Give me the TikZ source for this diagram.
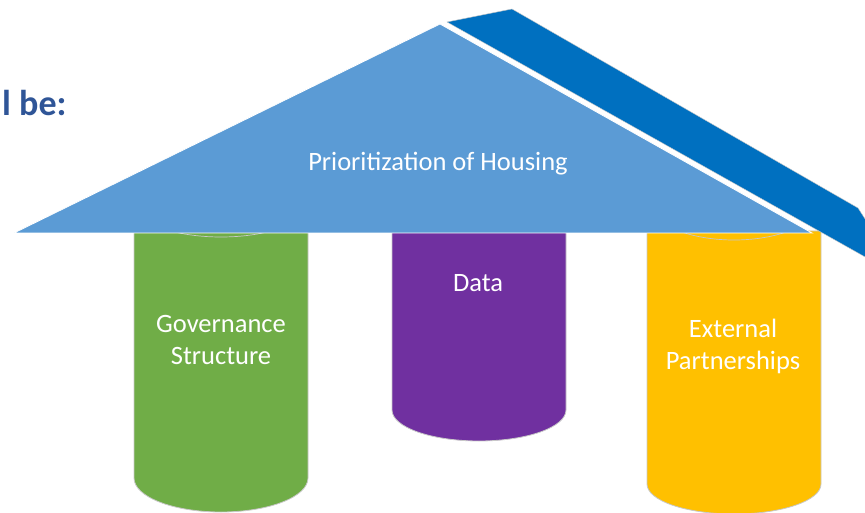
\documentclass[tikz,border=0pt]{standalone}
\usepackage{fontspec}
\setmainfont{Carlito}
\definecolor{roofblue}{HTML}{5B9BD5}
\definecolor{bandblue}{HTML}{0070C0}
\definecolor{pgreen}{HTML}{70AD47}
\definecolor{ppurple}{HTML}{7030A0}
\definecolor{pyellow}{HTML}{FFC000}
\definecolor{titleblue}{HTML}{2F5597}
\definecolor{edgegray}{HTML}{C8C8C8}
\tikzset{
  pillar/.style={draw=edgegray, line width=0.8pt},
  toparc/.style={draw=edgegray, line width=0.7pt},
  lbl/.style={text=white, font=\fontsize{26.5}{32}\selectfont, align=center, inner sep=0pt},
}
\begin{document}
\begin{tikzpicture}[x=1pt,y=-1pt]
\useasboundingbox (0,0) rectangle (865,513);
% pillars
\path[pillar, fill=pgreen] (134,231) -- (134,478) arc[start angle=180, end angle=360, x radius=87pt, y radius=34pt] -- (308,231) -- cycle;
\path[pillar, fill=ppurple] (392,231) -- (392,410) arc[start angle=180, end angle=360, x radius=87pt, y radius=31pt] -- (566,231) -- cycle;
\path[pillar, fill=pyellow] (647,231) -- (647,484) arc[start angle=180, end angle=360, x radius=87pt, y radius=30pt] -- (821,231) -- cycle;
\begin{scope}
\clip (0,233.5) rectangle (865,300);
\path[toparc] (134,204) arc[start angle=180, end angle=360, x radius=87pt, y radius=33pt];
\path[toparc] (647,200) arc[start angle=180, end angle=360, x radius=87pt, y radius=40pt];
\end{scope}
% band
\path[fill=bandblue, draw=edgegray, line width=0.4pt] (447,22) -- (512,9) -- (858,208) -- (867,222) -- (867,258) -- cycle;
% roof
\path[fill=roofblue, draw=white, line width=0.8pt] (14,233) -- (440,24) -- (812,233) -- cycle;
% texts
\node[lbl] (roof) at (438,164) {Prioritization of Housing};
\node[lbl] (gov) at (221,340) {Governance\\Structure};
\node[lbl] (data) at (478,283) {Data};
\node[lbl] (ext) at (733,346) {External\\Partnerships};
\node[anchor=west, inner sep=0pt, text=titleblue, font=\fontsize{36}{40}\bfseries] (head) at (2,103) {l be:};
\end{tikzpicture}
\end{document}
